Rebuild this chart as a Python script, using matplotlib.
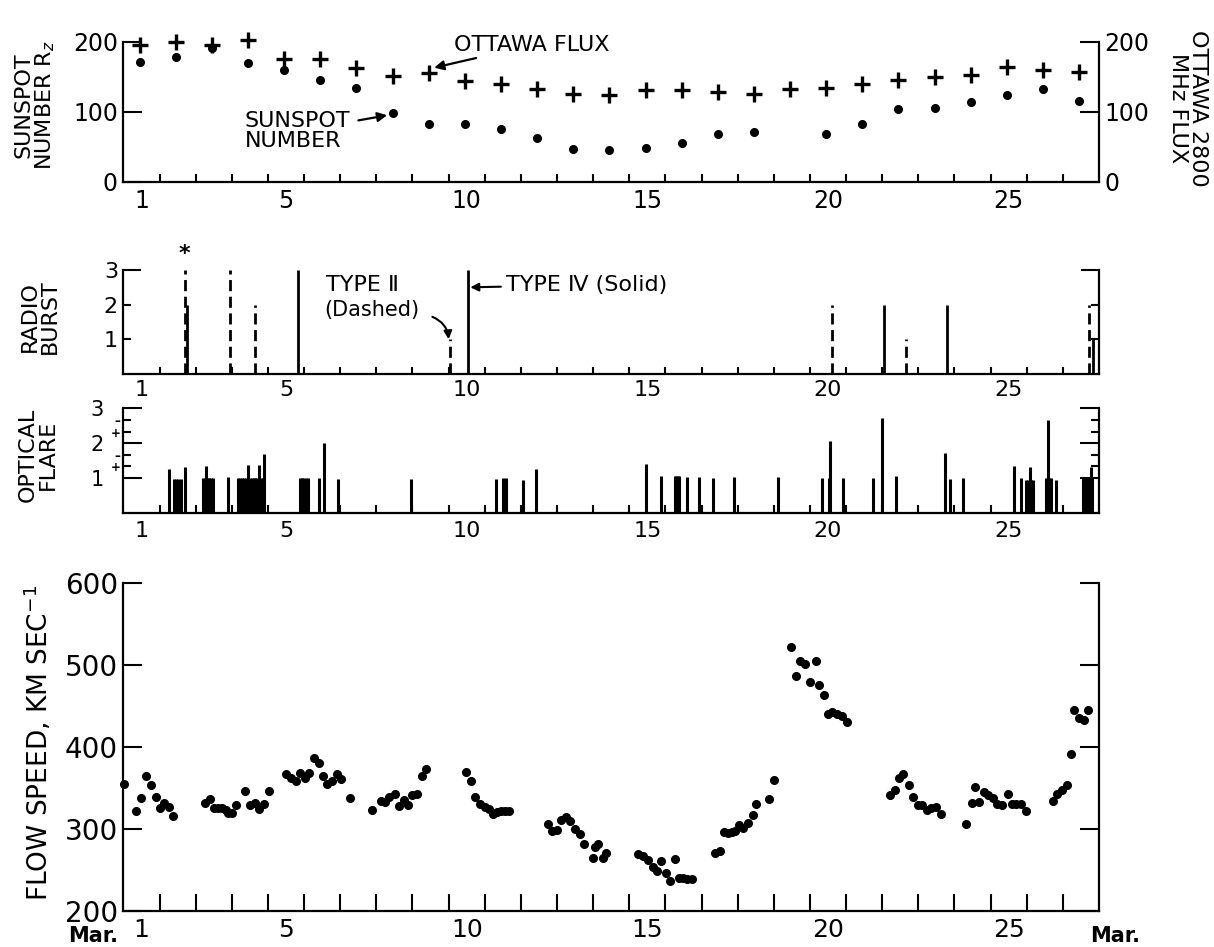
import numpy as np
import matplotlib
matplotlib.use("Agg")
import matplotlib.pyplot as plt

plt.rcParams['font.family'] = ['DejaVu Sans', 'Noto Sans CJK SC']

# ---- daily values (March 1..27) ----
days = np.arange(1, 28)
ottawa_flux = [195, 200, 196, 203, 175, 175, 162, 151, 156, 144, 140, 133, 126, 124,
               131, 131, 128, 126, 132, 134, 140, 145, 150, 153, 164, 159, 157]
sunspot = [171, 178, 191, 170, 160, 145, 134, 98, 82, 83, 76, 63, 47, 46,
           48, 56, 68, 71, np.nan, 68, 83, 104, 105, 114, 124, 132, 116]

# ---- radio bursts (time in days from Mar 1 00h, importance) ----
type2_time = [1.70, 2.96, 3.64, 9.03, 19.60, 21.67, 26.73]
type2_level = [3, 3, 2, 1, 2, 1, 2]
type4_time = [1.76, 4.84, 9.54, 21.05, 22.80, 26.85]
type4_level = [2, 3, 3, 2, 2, 1]

# ---- optical flares ----
flare_time = [1.26, 1.41, 1.46, 1.52, 1.58, 1.70,
              2.21, 2.26, 2.28, 2.33, 2.38, 2.43, 2.48, 2.88,
              3.18, 3.23, 3.28, 3.33, 3.38, 3.45, 3.50, 3.55, 3.60, 3.65, 3.70, 3.75, 3.80, 3.87, 3.89,
              4.88, 4.93, 4.98, 5.04, 5.11, 5.40, 5.55, 5.95, 7.95,
              10.30, 10.51, 10.60, 11.06, 11.41,
              14.47, 14.87, 15.26, 15.30, 15.35, 15.39, 15.60, 15.93, 16.32, 16.89, 18.11,
              19.34, 19.53, 19.56, 19.93, 20.74, 21.00, 21.37, 22.74, 22.88, 23.25,
              24.66, 24.85, 24.98, 25.03, 25.08, 25.10, 25.13, 25.17,
              25.54, 25.58, 25.62, 25.68, 25.81,
              26.55, 26.60, 26.65, 26.70, 26.75, 26.77, 26.80]
flare_level = [1.27, 0.97, 0.97, 0.97, 0.97, 1.32,
               1.0, 1.0, 1.34, 1.0, 1.0, 1.0, 1.0, 1.03,
               1.0, 1.0, 1.0, 1.0, 1.0, 1.37, 1.0, 1.0, 1.0, 1.0, 1.0, 1.37, 1.0, 1.0, 1.70,
               1.0, 1.0, 1.0, 1.0, 1.0, 0.99, 2.0, 0.96, 0.96,
               0.96, 0.99, 0.99, 0.94, 1.27,
               1.39, 1.06, 1.06, 1.06, 1.06, 1.06, 1.03, 1.03, 1.0, 1.03, 1.03,
               1.0, 1.0, 2.06, 1.0, 1.0, 2.72, 1.06, 1.72, 0.98, 1.0,
               1.34, 1.0, 0.93, 0.93, 0.93, 1.31, 0.93, 0.93,
               1.0, 2.67, 1.0, 1.0, 0.93,
               1.0, 1.0, 1.0, 1.0, 1.0, 1.30, 1.0]

# ---- solar wind flow speed ----
flow_time = [0.02, 0.35, 0.49, 0.61, 0.75, 0.89, 1.01, 1.13, 1.26, 1.38,
             2.27, 2.39, 2.50, 2.62, 2.74, 2.83, 2.88, 3.00, 3.12, 3.37, 3.51, 3.63, 3.76, 3.88, 4.02,
             4.50, 4.64, 4.78, 4.89, 5.02, 5.14, 5.28, 5.42, 5.51, 5.63, 5.76, 5.90, 6.01, 6.26,
             6.89, 7.12, 7.25, 7.36, 7.51, 7.62, 7.76, 7.88, 7.99, 8.13, 8.25, 8.38,
             9.47, 9.63, 9.74, 9.88, 10.00, 10.12, 10.23, 10.34, 10.46, 10.57, 10.67,
             11.75, 11.87, 12.01, 12.10, 12.24, 12.37, 12.51, 12.63, 12.74, 13.00, 13.04, 13.13, 13.26, 13.37,
             14.24, 14.38, 14.52, 14.66, 14.78, 14.89, 15.03, 15.14, 15.26, 15.37, 15.49, 15.61, 15.73,
             16.36, 16.50, 16.62, 16.73, 16.84, 16.94, 17.04, 17.15, 17.28, 17.42, 17.52, 17.88, 18.02,
             18.48, 18.62, 18.73, 18.87, 18.99, 19.16, 19.25, 19.39, 19.50, 19.62, 19.76, 19.89, 20.03,
             21.22, 21.35, 21.47, 21.59, 21.75, 21.86, 21.98, 22.09, 22.23, 22.35, 22.49, 22.63,
             23.33, 23.48, 23.57, 23.68, 23.82, 23.94, 24.07, 24.19, 24.33, 24.47, 24.59, 24.71, 24.84, 24.97,
             25.74, 25.85, 25.99, 26.12, 26.23, 26.31, 26.45, 26.58, 26.70]
flow_speed = [355, 322, 338, 365, 354, 339, 325, 332, 327, 316,
              332, 337, 326, 325, 325, 323, 319, 319, 329, 346, 329, 332, 324, 330, 346,
              367, 362, 358, 368, 362, 368, 387, 381, 365, 355, 358, 367, 361, 338,
              323, 334, 333, 339, 343, 328, 335, 329, 341, 343, 365, 373,
              369, 358, 339, 331, 327, 324, 318, 321, 322, 322, 322,
              306, 297, 299, 311, 314, 310, 300, 294, 281, 265, 278, 281, 265, 271,
              269, 267, 262, 254, 249, 261, 246, 236, 263, 240, 240, 239, 239,
              271, 273, 296, 295, 296, 298, 305, 301, 307, 317, 331, 337, 360,
              522, 487, 505, 502, 480, 505, 476, 464, 440, 443, 440, 438, 430,
              341, 347, 362, 367, 354, 339, 329, 329, 323, 325, 327, 318,
              306, 332, 351, 333, 345, 342, 338, 331, 329, 343, 331, 331, 331, 322,
              334, 343, 348, 354, 391, 445, 436, 433, 445]

day_labels = ['1', '5', '10', '15', '20', '25']
label_days = [1, 5, 10, 15, 20, 25]
boundaries = np.arange(1, 27)

fig = plt.figure(figsize=(12.14, 9.47), dpi=100)
L, W = 0.1017, 0.8035
ax_top = fig.add_axes([L, 0.8081, W, 0.1478])
ax_rad = fig.add_axes([L, 0.6051, W, 0.1098])
ax_opt = fig.add_axes([L, 0.4586, W, 0.1102])
ax_flow = fig.add_axes([L, 0.0383, W, 0.3457])


def style_axes(ax, tick_len, label_size, label_pad):
    ax.set_xlim(0, 27)
    ax.spines['top'].set_visible(False)
    for s in ('left', 'right', 'bottom'):
        ax.spines[s].set_linewidth(1.6)
    ax.set_xticks(boundaries)
    ax.set_xticklabels([])
    ax.tick_params(axis='x', which='major', direction='in', length=tick_len, width=1.5)
    ax.set_xticks([d - 0.5 for d in label_days], labels=day_labels, minor=True)
    ax.tick_params(axis='x', which='minor', length=0, labelsize=label_size, pad=label_pad)


# ---- top panel: sunspot number & Ottawa flux ----
style_axes(ax_top, 6, 17, 5)
ax_top.set_ylim(0, 200)
ax_top.plot(days - 0.55, ottawa_flux, '+', color='black', ms=11, mew=2.4, clip_on=False)
ax_top.plot(days - 0.55, sunspot, 'o', color='black', ms=5.5, clip_on=False)
ax_top.set_yticks([0, 100, 200])
ax_top.tick_params(axis='y', direction='in', length=14, width=1.5, labelsize=17,
                   left=True, right=True, labelleft=True, labelright=True, pad=4)
ax_top.annotate('OTTAWA FLUX', xy=(8.6, 163), xytext=(9.15, 195), fontsize=16,
                va='center', ha='left',
                arrowprops=dict(arrowstyle='-|>', color='black', lw=1.6, mutation_scale=14,
                                shrinkA=0, shrinkB=0))
ax_top.annotate('SUNSPOT\nNUMBER', xy=(7.3, 95), xytext=(3.35, 72), fontsize=16,
                va='center', ha='left', linespacing=1.0,
                arrowprops=dict(arrowstyle='-|>', color='black', lw=1.6, mutation_scale=14,
                                shrinkA=4, shrinkB=0))

# ---- radio bursts ----
style_axes(ax_rad, 5, 16, 4)
ax_rad.set_ylim(0, 3)
ax_rad.vlines(type2_time, 0, type2_level, colors='black', lw=2.0, linestyles=(0, (4, 2)))
ax_rad.vlines(type4_time, 0, type4_level, colors='black', lw=2.0)
ax_rad.text(type2_time[0], 3.45, '*', ha='center', va='center', fontsize=16, fontweight='bold')
ax_rad.set_yticks([3], labels=['3'])
ax_rad.set_yticks([1, 2], labels=['1', '2'], minor=True)
ax_rad.tick_params(axis='y', which='major', direction='in', length=13, width=1.5,
                   labelsize=16, left=True, right=True, pad=4)
ax_rad.tick_params(axis='y', which='minor', direction='in', length=6, width=1.5,
                   labelsize=16, left=True, right=True, pad=4)
ax_rad.text(5.6, 2.57, 'TYPE Ⅱ', fontsize=16, va='center', ha='left')
ax_rad.text(5.55, 1.85, '(Dashed)', fontsize=15, va='center', ha='left')
ax_rad.annotate('', xy=(9.0, 1.0), xytext=(8.55, 1.65),
                arrowprops=dict(arrowstyle='-|>', color='black', lw=1.5, mutation_scale=12,
                                connectionstyle='arc3,rad=-0.3', shrinkA=0, shrinkB=0))
ax_rad.annotate('TYPE Ⅳ (Solid)', xy=(9.6, 2.5), xytext=(10.6, 2.57), fontsize=16,
                va='center', ha='left',
                arrowprops=dict(arrowstyle='-|>', color='black', lw=1.5, mutation_scale=12,
                                shrinkA=2, shrinkB=0))

# ---- optical flares ----
style_axes(ax_opt, 6, 16, 6)
ax_opt.set_ylim(0, 3)
ax_opt.vlines(flare_time, 0, flare_level, colors='black', lw=2.2)
ax_opt.set_yticks([1, 2, 3], labels=['1', '2', '3'])
ax_opt.set_yticks([1.33, 1.67, 2.33, 2.67], labels=['+', '–', '+', '–'], minor=True)
ax_opt.tick_params(axis='y', which='major', direction='in', length=14, width=1.5,
                   labelsize=15, left=True, right=True, pad=14)
ax_opt.tick_params(axis='y', which='minor', direction='in', length=6, width=1.5,
                   labelsize=8.5, left=True, right=True, pad=2)
for lab in ax_opt.get_yticklabels(minor=True):
    lab.set_fontweight('bold')

# ---- flow speed ----
style_axes(ax_flow, 12, 18, 5)
ax_flow.set_ylim(200, 600)
ax_flow.plot(flow_time, flow_speed, 'o', color='black', ms=5.5, clip_on=False)
ax_flow.set_yticks([200, 300, 400, 500, 600])
ax_flow.tick_params(axis='y', direction='in', length=14, width=1.5, labelsize=20,
                    left=True, right=True, pad=4)
ax_flow.text(-0.15, -0.078, 'Mar.', transform=ax_flow.get_xaxis_transform(),
             ha='right', va='center', fontsize=15, fontweight='bold')
ax_flow.text(26.75, -0.078, 'Mar.', transform=ax_flow.get_xaxis_transform(),
             ha='left', va='center', fontsize=15, fontweight='bold')

# ---- panel labels ----
fig.text(35 / 1214, 1 - 105 / 947, 'SUNSPOT\nNUMBER R$_z$', rotation=90, ha='center',
         va='center', fontsize=16, linespacing=1.0)
fig.text(1188 / 1214, 1 - 108 / 947, 'OTTAWA 2800\nMHz FLUX', rotation=270, ha='center',
         va='center', fontsize=16, linespacing=1.0)
fig.text(40 / 1214, 1 - 317 / 947, 'RADIO\nBURST', rotation=90, ha='center',
         va='center', fontsize=16, linespacing=1.0)
fig.text(38 / 1214, 1 - 455 / 947, 'OPTICAL\nFLARE', rotation=90, ha='center',
         va='center', fontsize=16, linespacing=1.0)
fig.text(38 / 1214, 1 - 743 / 947, 'FLOW SPEED, KM SEC$^{-1}$', rotation=90, ha='center',
         va='center', fontsize=19)

fig.savefig('out.png', dpi=100)
